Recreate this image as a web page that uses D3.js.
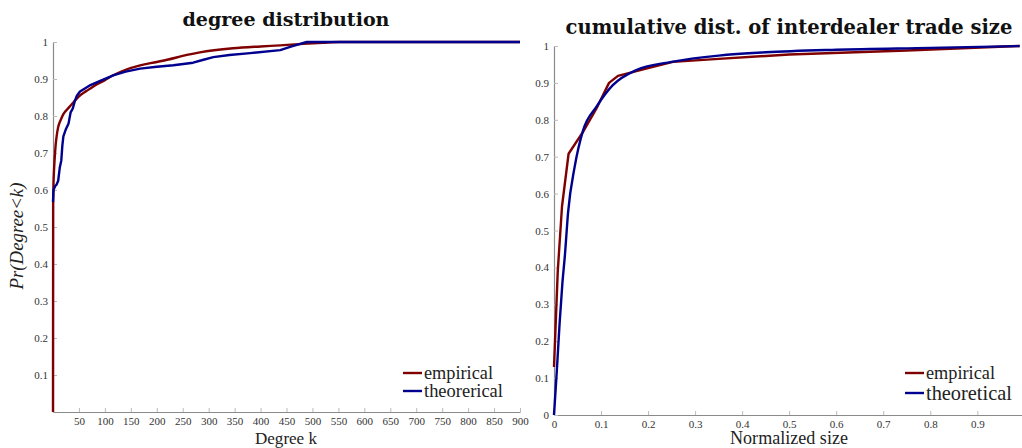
<!DOCTYPE html>
<html><head><meta charset="utf-8">
<script src="https://cdn.jsdelivr.net/npm/d3@7"></script>
<style>
body{margin:0;background:#fff}
</style>
</head><body>
<svg id="c" width="1022" height="448"></svg>
<script>
// ---- tick labels ----
const degTicks = [50,100,150,200,250,300,350,400,450,500,550,600,650,700,750,800,850,900];
const leftProbTicks = [0.1,0.2,0.3,0.4,0.5,0.6,0.7,0.8,0.9,1];
const sizeTicks = [0,0.1,0.2,0.3,0.4,0.5,0.6,0.7,0.8,0.9];
const rightProbTicks = [0,0.1,0.2,0.3,0.4,0.5,0.6,0.7,0.8,0.9,1];

// ---- degree distribution: empirical ----
const degEmpK = [0,0.3,1,2,3,5,7,10,15,20,30,40,50,65,80,100,116,140,168,200,220,258,283,347,400,438,482,520,553,900];
const degEmpP = [0,0.57,0.62,0.655,0.68,0.72,0.745,0.77,0.79,0.805,0.822,0.838,0.853,0.868,0.882,0.897,0.91,0.925,0.937,0.946,0.952,0.965,0.972,0.983,0.988,0.991,0.995,0.998,1.0,1.0];
// ---- degree distribution: theoretical ----
const degThK = [0,1,4,7,10,13,16,18,20,25,30,34,38,42,46,52,70,91,116,140,168,200,232,270,290,309,340,380,438,460,489,900];
const degThP = [0.568,0.6,0.61,0.615,0.625,0.66,0.68,0.72,0.745,0.765,0.78,0.81,0.82,0.84,0.855,0.866,0.882,0.895,0.91,0.92,0.928,0.933,0.937,0.944,0.952,0.959,0.965,0.97,0.978,0.988,1.0,1.0];

// ---- trade size: empirical ----
const sizeEmpX = [0,0.008,0.017,0.031,0.062,0.09,0.117,0.136,0.2,0.253,0.35,0.5,0.75,0.99];
const sizeEmpP = [0.13,0.39,0.565,0.708,0.768,0.83,0.9,0.919,0.94,0.957,0.965,0.977,0.988,1.0];
// ---- trade size: theoretical ----
const sizeThX = [0,0.006,0.012,0.018,0.023,0.03,0.044,0.062,0.09,0.125,0.175,0.25,0.35,0.45,0.6,0.8,0.99];
const sizeThP = [0,0.12,0.25,0.36,0.43,0.55,0.673,0.772,0.835,0.894,0.935,0.957,0.974,0.983,0.99,0.995,1.0];

const colEmp = "#7f0000", colTh = "#00008f";
const SERIF = "'Liberation Serif','Times New Roman','Noto Serif','DejaVu Serif',serif";
const WIDE_SERIF = "'DejaVu Serif','Liberation Serif',serif";
const svg = d3.select("#c");

function fit(t, target){
  const fs = parseFloat(t.style("font-size"));
  const w = t.node().getComputedTextLength();
  if (w > 0) t.style("font-size", (fs*target/w).toFixed(2)+"px");
  return t;
}
function txt(parent, s, fam, size){
  return parent.append("text").text(s).style("font-family",fam).style("font-size",size+"px").style("fill","#222");
}

function panel(o){
  const g = svg.append("g");
  const x = d3.scaleLinear().domain(o.xDomain).range(o.xRange);
  const y = d3.scaleLinear().domain([0,1]).range(o.yRange);
  const ax = g.append("g").attr("transform",`translate(0,${o.yRange[0]})`)
    .call(d3.axisBottom(x).tickValues(o.xTicks).tickFormat(o.xFmt).tickSizeInner(-4).tickSizeOuter(0).tickPadding(5));
  const ay = g.append("g").attr("transform",`translate(${o.xRange[0]},0)`)
    .call(d3.axisLeft(y).tickValues(o.yTicks).tickFormat(d=>d===1?"1":(d===0?"0":d3.format(".1f")(d))).tickSizeInner(-4).tickSizeOuter(0).tickPadding(5));
  [ax,ay].forEach(a=>{
    a.select(".domain").attr("stroke","#8a8a8a").attr("stroke-width",1.2);
    a.selectAll(".tick line").attr("stroke","#bbb");
    a.selectAll(".tick text").style("font-size","11px").style("fill","#333").style("font-family",SERIF);
  });
  const clip = "clip"+o.id;
  g.append("clipPath").attr("id",clip).append("rect")
    .attr("x",o.xRange[0]-3).attr("y",o.yRange[1]-5).attr("width",o.xRange[1]-o.xRange[0]+6).attr("height",o.yRange[0]-o.yRange[1]+5);
  o.series.forEach(s=>{
    const pts = s.xs.map((v,i)=>[v,s.ps[i]]);
    g.append("path").datum(pts).attr("clip-path",`url(#${clip})`)
      .attr("fill","none").attr("stroke",s.color).attr("stroke-width",2.4).attr("stroke-linejoin","round")
      .attr("d",d3.line().x(d=>x(d[0])).y(d=>y(d[1])).curve(s.curve));
  });
  const tt = txt(g, o.title, WIDE_SERIF, 19).attr("x",o.titleX).attr("y",o.titleY).attr("text-anchor","middle")
    .style("font-weight","bold").style("fill","#111");
  fit(tt, o.titleW);
  const xl = txt(g, o.xLabel, SERIF, 18).attr("x",o.titleX).attr("y",444).attr("text-anchor","middle");
  fit(xl, o.xLabelW);
  const lg = g.append("g").attr("transform",`translate(${o.legX},${o.legY})`);
  o.series.forEach((s,i)=>{
    lg.append("line").attr("x1",0).attr("x2",19).attr("y1",i*o.legDy).attr("y2",i*o.legDy)
      .attr("stroke",s.color).attr("stroke-width",2.4);
    const t = txt(lg, s.name, SERIF, 17).attr("x",21).attr("y",i*o.legDy).attr("dy","0.33em");
    fit(t, s.legW);
  });
  return g;
}

panel({id:"L", xDomain:[0,900], xRange:[53,520], yRange:[412,42],
  xTicks:degTicks, yTicks:leftProbTicks, xFmt:d3.format("d"),
  title:"degree distribution", titleX:286, titleY:26, titleW:207, xLabel:"Degree k", xLabelW:62,
  legX:403, legY:373, legDy:18,
  series:[
    {name:"empirical", legW:69, xs:degEmpK, ps:degEmpP, color:colEmp, curve:d3.curveMonotoneX},
    {name:"theorerical", legW:79, xs:degThK, ps:degThP, color:colTh, curve:d3.curveLinear}
  ]});

panel({id:"R", xDomain:[0,0.995], xRange:[554,1022], yRange:[415,46],
  xTicks:sizeTicks, yTicks:rightProbTicks, xFmt:d=>d===0?"0":d3.format(".1f")(d),
  title:"cumulative dist. of interdealer trade size", titleX:789, titleY:34, titleW:447, xLabel:"Normalized size", xLabelW:118,
  legX:905, legY:373, legDy:20,
  series:[
    {name:"empirical", legW:69, xs:sizeEmpX, ps:sizeEmpP, color:colEmp, curve:d3.curveLinear},
    {name:"theoretical", legW:86, xs:sizeThX, ps:sizeThP, color:colTh, curve:d3.curveMonotoneX}
  ]});

const yl = txt(svg, "Pr(Degree<k)", SERIF, 19).attr("transform","translate(23,236) rotate(-90)").attr("text-anchor","middle")
  .style("font-style","italic");
fit(yl, 107);
</script>
</body></html>
